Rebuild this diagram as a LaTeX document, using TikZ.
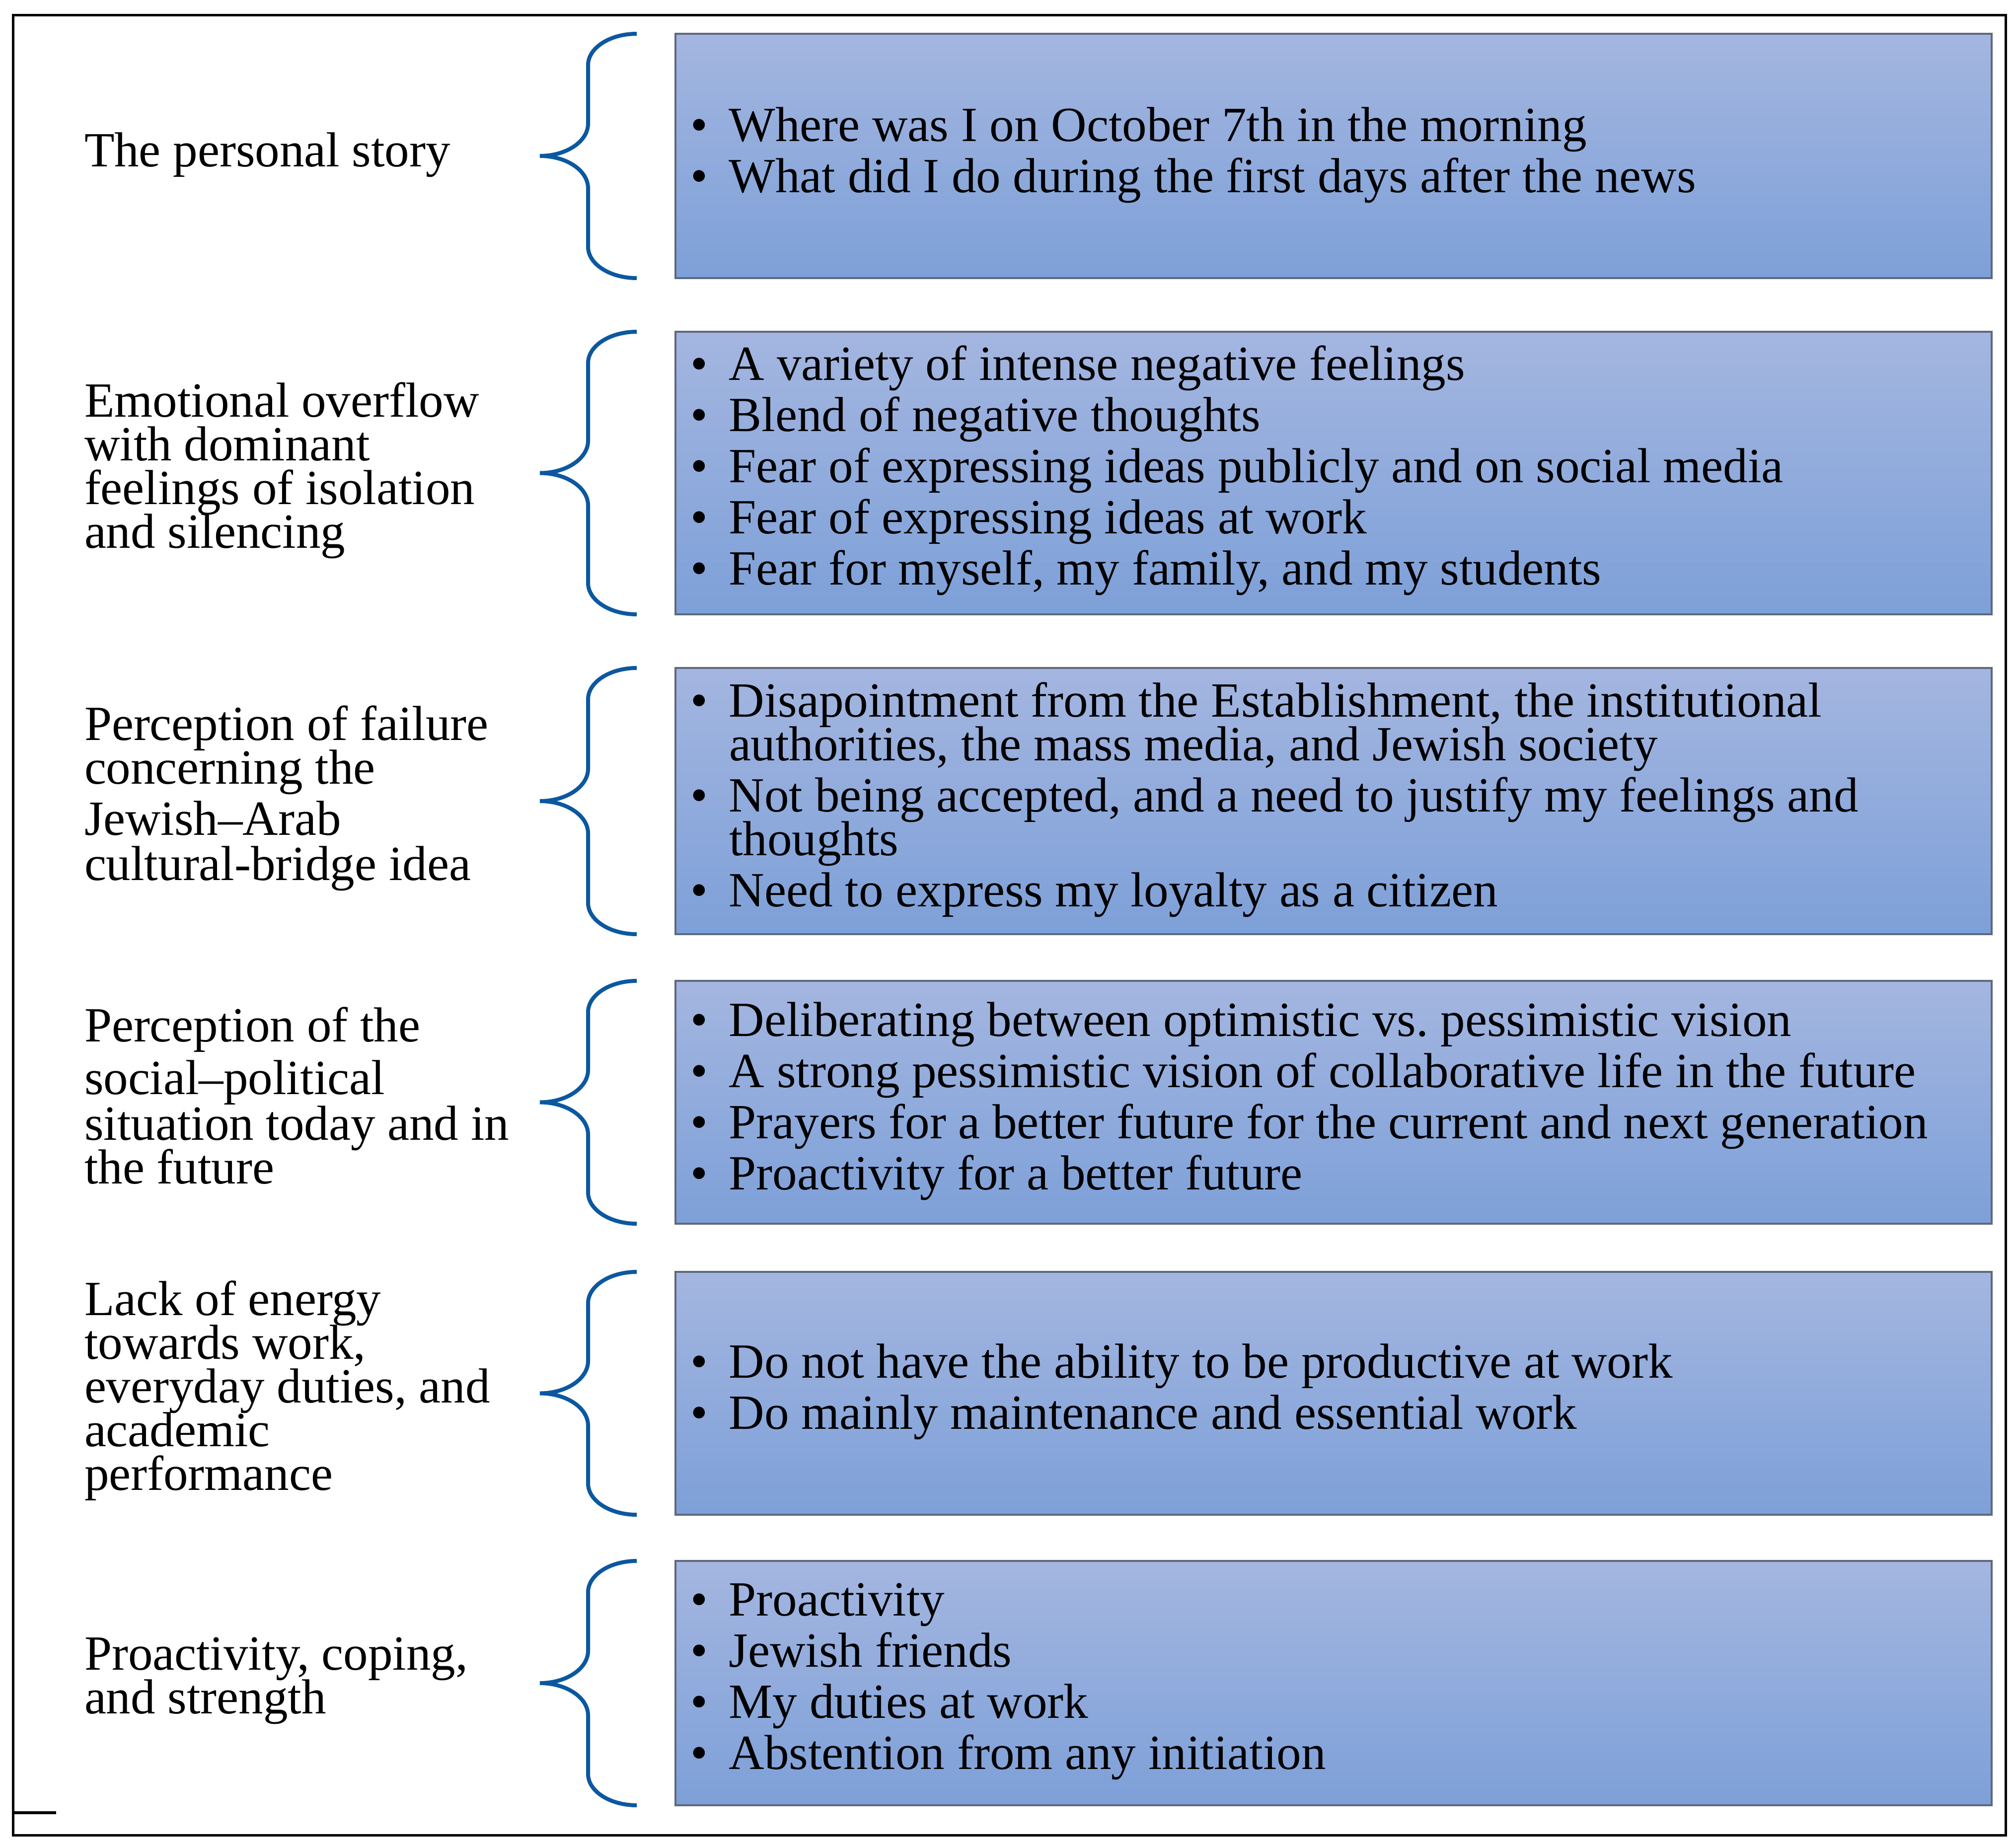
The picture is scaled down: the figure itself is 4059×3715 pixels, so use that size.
\documentclass[tikz,border=0pt]{standalone}
\usepackage{fontspec}
\setmainfont{Liberation Serif}
\usetikzlibrary{calc}
\definecolor{bracecol}{RGB}{11,87,160}
\definecolor{boxtop}{RGB}{164,182,224}
\definecolor{boxbot}{RGB}{125,160,216}
\definecolor{boxline}{RGB}{95,105,125}
\newcommand\bul{\makebox[19.5pt][l]{•}}
\newcommand\cont{\hspace*{19.5pt}}
\newcommand\nodefont{\fontsize{24.75pt}{22pt}\selectfont\frenchspacing\setlength{\lineskiplimit}{-50pt}}
\newcommand\wsp{\spaceskip=0.25em\relax\xspaceskip=0.25em\relax}
\newcommand\drawbrace[1]{%
  \draw[bracestyle] let \p1=(#1.north west), \p2=(#1.south west),
      \p3=($(#1.north west)!.5!(#1.south west)$) in
    (\x1-19.5pt,\y1) .. controls (\x1-33pt,\y1) and (\x1-44pt,\y1-7.1pt) .. (\x1-44pt,\y1-15.75pt)
    -- (\x1-44pt,\y3+16.25pt) .. controls (\x1-44pt,\y3+7.3pt) and (\x1-54.9pt,\y3) .. (\x1-68.25pt,\y3)
    .. controls (\x1-54.9pt,\y3) and (\x1-44pt,\y3-7.3pt) .. (\x1-44pt,\y3-16.25pt)
    -- (\x1-44pt,\y2+15.75pt) .. controls (\x1-44pt,\y2+7.1pt) and (\x1-33pt,\y2) .. (\x1-19.5pt,\y2);}
\begin{document}
\begin{tikzpicture}[x=0.25pt,y=-0.25pt,
  lefttxt/.style={font=\nodefont, execute at begin node=\wsp, inner sep=0pt, outer sep=0pt, anchor=base west, align=left, text width=250pt},
  itemtxt/.style={font=\nodefont, execute at begin node=\wsp, inner sep=0pt, outer sep=0pt, anchor=base west, align=left, text width=650pt},
  box/.style={draw=boxline, line width=1pt, top color=boxtop, bottom color=boxbot, inner sep=0pt, outer sep=0pt, anchor=north west, minimum width=662.5pt},
  bracestyle/.style={draw=bracecol, line width=2pt},
  frame/.style={draw=black, line width=1.25pt}]
\useasboundingbox (0,0) rectangle (4059,3715);
\fill[white] (0,0) rectangle (4059,3715);
\draw[frame] (26,30) rectangle (4038,3695);
\draw[line width=1.5pt] (26,3650) -- (113,3650);

% boxes
\node[box, minimum height=123pt]    (b1) at (1360,68) {};
\node[box, minimum height=142.25pt] (b2) at (1360,668) {};
\node[box, minimum height=134pt]    (b3) at (1360,1345) {};
\node[box, minimum height=122.25pt] (b4) at (1360,1975) {};
\node[box, minimum height=122.25pt] (b5) at (1360,2561) {};
\node[box, minimum height=123pt]    (b6) at (1360,3143) {};

% braces
\drawbrace{b1}
\drawbrace{b2}
\drawbrace{b3}
\drawbrace{b4}
\drawbrace{b5}
\drawbrace{b6}

% left labels
\node[lefttxt] (l1) at (170,335) {The personal story};
\node[lefttxt] (l2) at (170,839) {Emotional overflow\\with dominant\\feelings of isolation\\and silencing};
\node[lefttxt] (l3) at (170,1490) {Perception of failure\\concerning the\\[3.75pt]Jewish–Arab\\[0.75pt]cultural-bridge idea};
\node[lefttxt] (l4) at (170,2097) {Perception of the\\[4.5pt]social–political\\[1pt]situation today and in\\the future};
\node[lefttxt] (l5) at (170,2648) {Lack of energy\\towards work,\\everyday duties, and\\academic\\performance};
\node[lefttxt] (l6) at (170,3362) {Proactivity, coping,\\and strength};

% box texts
\node[itemtxt] (t1) at (1390,284) {\bul Where was I on October 7th in the morning\\[3.75pt]\bul What did I do during the first days after the news};
\node[itemtxt] (t2) at (1390,765) {\bul A variety of intense negative feelings\\[3.75pt]\bul Blend of negative thoughts\\[3.75pt]\bul Fear of expressing ideas publicly and on social media\\[3.75pt]\bul Fear of expressing ideas at work\\[3.75pt]\bul Fear for myself, my family, and my students};
\node[itemtxt] (t3) at (1390,1443) {\bul Disapointment from the Establishment, the institutional\\\cont authorities, the mass media, and Jewish society\\[3.75pt]\bul Not being accepted, and a need to justify my feelings and\\\cont thoughts\\[3.75pt]\bul Need to express my loyalty as a citizen};
\node[itemtxt] (t4) at (1390,2086) {\bul Deliberating between optimistic vs. pessimistic vision\\[3.75pt]\bul A strong pessimistic vision of collaborative life in the future\\[3.75pt]\bul Prayers for a better future for the current and next generation\\[3.75pt]\bul Proactivity for a better future};
\node[itemtxt] (t5) at (1390,2774) {\bul Do not have the ability to be productive at work\\[3.75pt]\bul Do mainly maintenance and essential work};
\node[itemtxt] (t6) at (1390,3253) {\bul Proactivity\\[3.75pt]\bul Jewish friends\\[3.75pt]\bul My duties at work\\[3.75pt]\bul Abstention from any initiation};
\end{tikzpicture}
\end{document}
